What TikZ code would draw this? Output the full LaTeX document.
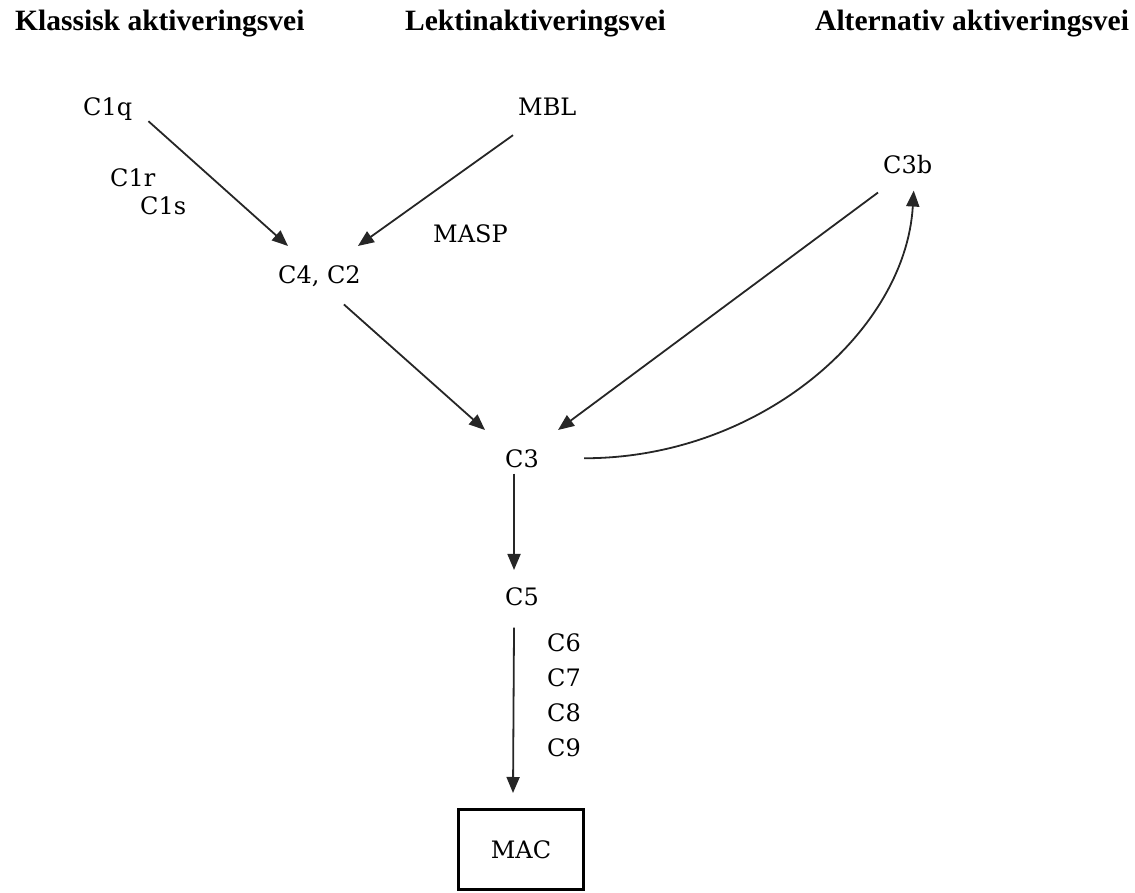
\documentclass[tikz,border=0pt]{standalone}
\usepackage{fontspec}
\setmainfont{Liberation Serif}
\newfontfamily\labfont{DejaVu Serif}
\usetikzlibrary{arrows.meta}
\begin{document}
\begin{tikzpicture}[x=1pt,y=-1pt,
  title/.style={anchor=base west,inner sep=0pt,font=\fontsize{29.5}{33}\selectfont\bfseries},
  lab/.style={anchor=base west,inner sep=0pt,font=\labfont\fontsize{24}{28}\selectfont},
  conn/.style={line width=1.8pt,draw=black!85,-{Triangle[length=16pt,width=13pt]}},
  macbox/.style={draw=black,line width=3pt,minimum width=125pt,minimum height=80pt,inner sep=0pt,font=\labfont\fontsize{24}{28}\selectfont}
]
\useasboundingbox (0,0) rectangle (1135,893);
% titles
\node[title] (t1) at (15,31) {Klassisk aktiveringsvei};
\node[title] (t2) at (405,31) {Lektinaktiveringsvei};
\node[title] (t3) at (815,31) {Alternativ aktiveringsvei};
% labels
\node[lab] (c1q) at (83,116) {C1q};
\node[lab] (c1r) at (110,187) {C1r};
\node[lab] (c1s) at (140,215) {C1s};
\node[lab] (mbl) at (518,116) {MBL};
\node[lab] (masp) at (433,243) {MASP};
\node[lab] (c4c2) at (278,284) {C4, C2};
\node[lab] (c3b) at (883,174) {C3b};
\node[lab] (c3) at (505,467) {C3};
\node[lab] (c5) at (505,605) {C5};
\node[lab] (c6) at (547,651) {C6};
\node[lab] (c7) at (547,686) {C7};
\node[lab] (c8) at (547,721) {C8};
\node[lab] (c9) at (547,756) {C9};
\node[macbox] (mac) at (521,849.5) {MAC};
% connectors
\draw[conn] ([shift={(16,0)}]c1q.south east) -- ([shift={(10,-20)}]c4c2.north west);
\draw[conn] ([shift={(-5,19)}]mbl.south west) -- ([shift={(-3,-20)}]c4c2.north east);
\draw[conn] ([shift={(-17,17)}]c4c2.south east) -- ([shift={(-20,-19)}]c3.north west);
\draw[conn] ([shift={(-5,18)}]c3b.south west) -- ([shift={(19,-19)}]c3.north east);
\draw[conn] ([shift={(45,0)}]c3.east) .. controls +(177,0) and +(-8,140) .. ([shift={(6,16)}]c3b.south);
\draw[conn] ([shift={(-8,6)}]c3.south) -- ([shift={(-8,-17)}]c5.north);
\draw[conn] ([shift={(-8,22)}]c5.south) -- ([shift={(-8,-15)}]mac.north);
\end{tikzpicture}
\end{document}
